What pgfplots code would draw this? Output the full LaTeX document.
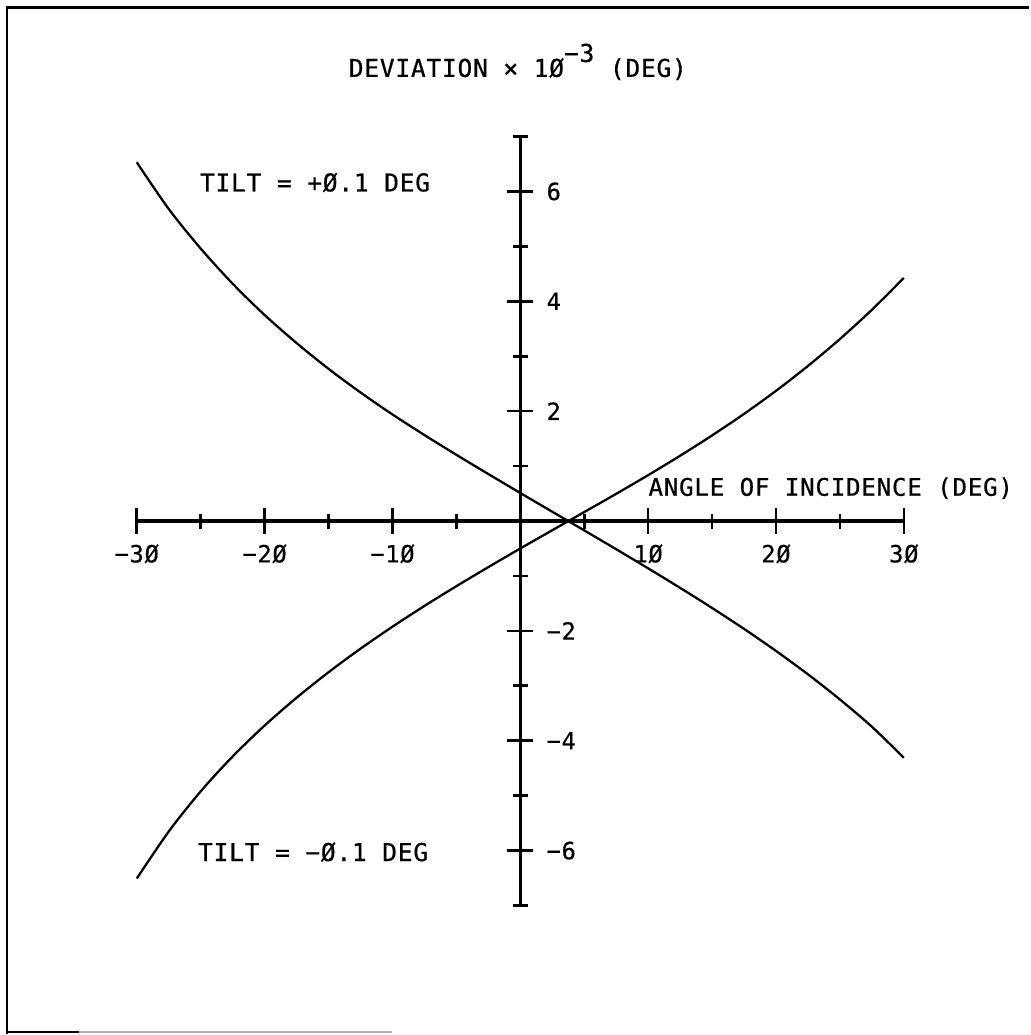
\documentclass[border=0pt]{standalone}
\usepackage{pgfplots}
\pgfplotsset{compat=1.18}
\usepackage{fontspec}
\setmainfont{DejaVu Sans Mono}[LetterSpace=3, FakeBold=0.6]
\setmonofont{DejaVu Sans Mono}

% Deviation of a tilted element versus angle of incidence
\pgfplotstableread{
x      dev
-30    6.53
-27.5  5.68
-25    4.96
-22.5  4.32
-20    3.75
-17.5  3.24
-15    2.77
-12.5  2.34
-10    1.94
-7.5   1.565
-5     1.205
-2.5   0.855
0      0.51
2.5    0.169
5     -0.171
7.5   -0.514
10    -0.862
12.5  -1.217
15    -1.583
17.5  -1.964
20    -2.365
22.5  -2.791
25    -3.249
27.5  -3.745
30    -4.31
}\tiltplus

\pgfplotstableread{
x      dev
-30   -6.508
-27.5 -5.652
-25   -4.921
-22.5 -4.286
-20   -3.723
-17.5 -3.217
-15   -2.753
-12.5 -2.324
-10   -1.924
-7.5  -1.546
-5    -1.186
-2.5  -0.839
0     -0.50
2.5   -0.168
5      0.163
7.5    0.495
10     0.835
12.5   1.188
15     1.558
17.5   1.95
20     2.37
22.5   2.823
25     3.313
27.5   3.845
30     4.425
}\tiltminus

\begin{document}
\begin{tikzpicture}
\begin{axis}[
  x=2.56mm, y=11mm,
  xmin=-30, xmax=30, ymin=-7, ymax=7,
  enlargelimits=false,
  axis lines=middle,
  axis line style={-, line width=1.9pt},
  clip=false,
  xtick={-30,-20,-10,10,20,30},
  xticklabels={−3Ø,−2Ø,−1Ø,1Ø,2Ø,3Ø},
  minor xtick={-25,-15,-5,5,15,25},
  ytick={-6,-4,-2,2,4,6},
  yticklabels={−6,−4,−2,2,4,6},
  minor ytick={-7,-5,-3,-1,1,3,5,7},
  tick align=center,
  major tick length=5.2mm,
  minor tick length=3mm,
  tick style={black, line width=1.5pt},
  minor tick style={black, line width=1.5pt},
  tick label style={font=\fontsize{13.5}{13.5}\selectfont, inner sep=0pt},
  xticklabel style={anchor=north, yshift=-2.0mm},
  yticklabel style={anchor=west, xshift=7.8mm},
]
\addplot[black, line width=1.3pt, smooth] table[x=x, y=dev] {\tiltplus};
\addplot[black, line width=1.3pt, smooth] table[x=x, y=dev] {\tiltminus};

% labels
\node[anchor=base west, inner sep=0pt, font=\fontsize{14}{14}\selectfont]
  at (axis cs:-13.44,8.085) {DEVIATION × 1Ø\raisebox{3mm}{−3} (DEG)};
\node[anchor=base west, inner sep=0pt, font=\fontsize{14}{14}\selectfont]
  at (axis cs:-25.08,6.0) {TILT = +Ø.1 DEG};
\node[anchor=base west, inner sep=0pt, font=\fontsize{14}{14}\selectfont]
  at (axis cs:-25.23,-6.19) {TILT = −Ø.1 DEG};
\node[anchor=base west, inner sep=0pt, font=\fontsize{13.8}{13.8}\selectfont]
  at (axis cs:10,0.46) {ANGLE OF INCIDENCE (DEG)};

% sheet border
\draw[line width=1.5pt] (axis cs:-40.16,-9.333) -- (axis cs:-40.16,9.35) -- (axis cs:39.77,9.35);
\draw[line width=1.2pt] (axis cs:-40.16,-9.30) -- (axis cs:-34.5,-9.30);
\draw[gray!60, line width=0.8pt] (axis cs:-34.5,-9.30) -- (axis cs:-10,-9.30);

% page extent
\path (axis cs:-40.70,9.485) rectangle (axis cs:39.77,-9.333);
\end{axis}
\end{tikzpicture}
\end{document}
